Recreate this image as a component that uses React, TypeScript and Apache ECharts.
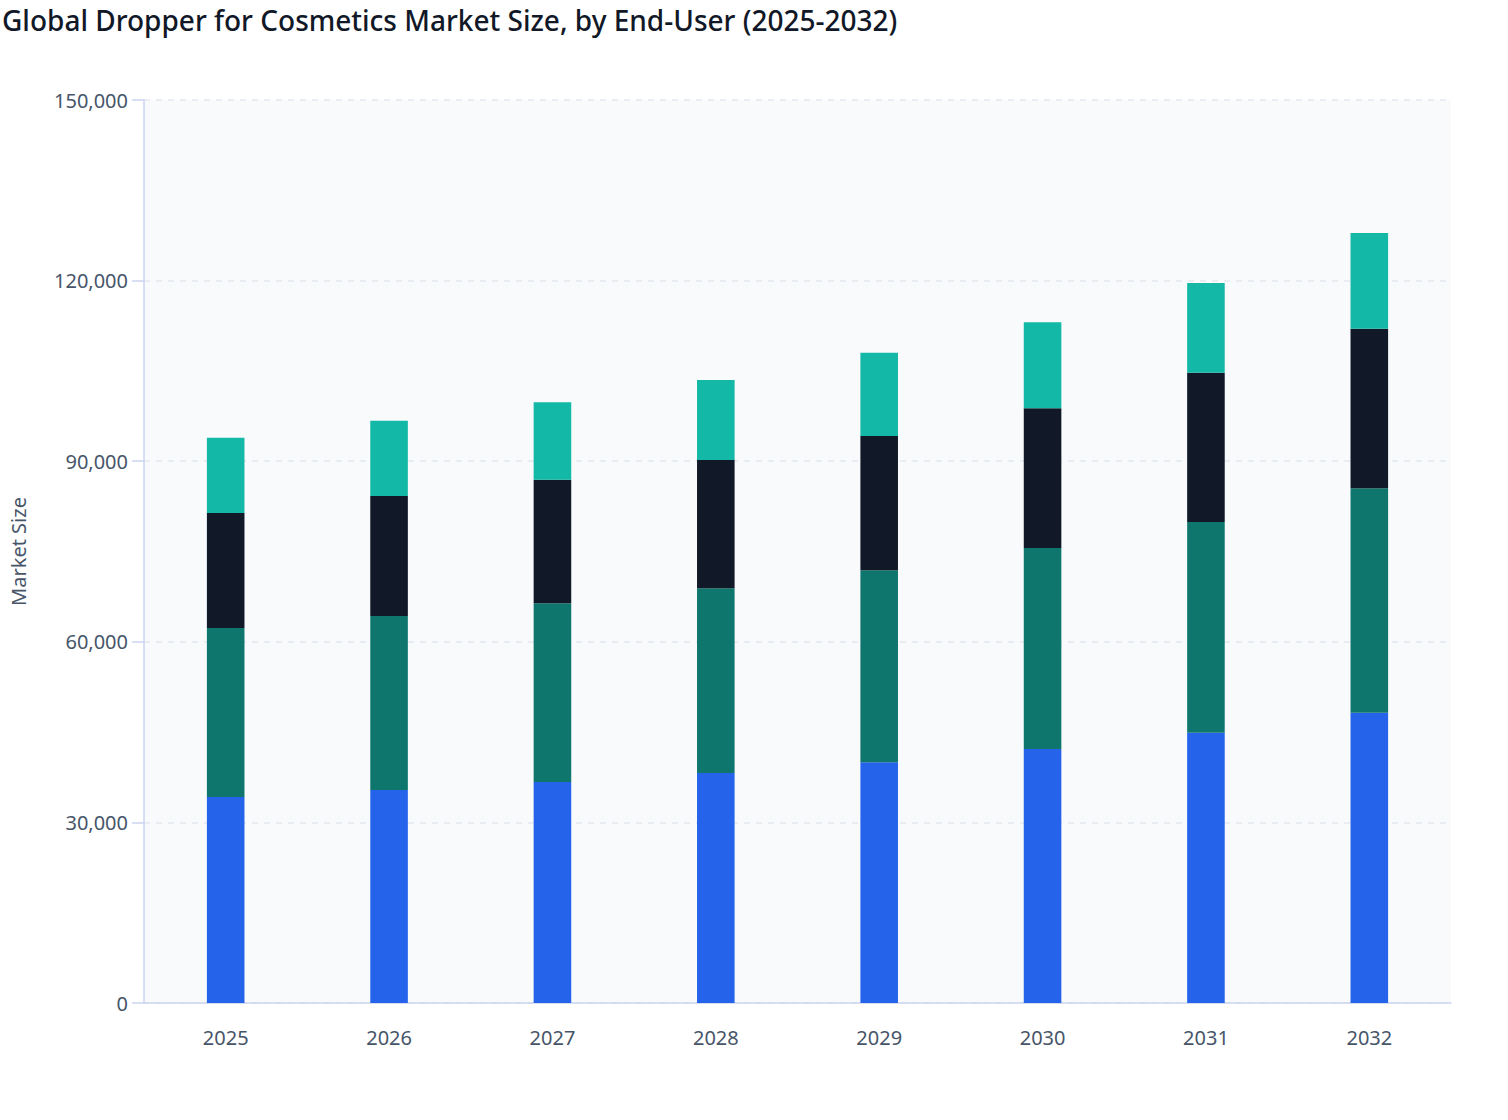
import React, { useEffect, useRef } from "react";
import * as echarts from "echarts";

const years = ["2025", "2026", "2027", "2028", "2029", "2030", "2031", "2032"];
const seriesNames = ["Personal Care Brands", "Cosmetics Manufacturers", "Pharmaceutical & Cosmeceutical", "Others"];
const seriesA = [34200, 35400, 36700, 38200, 40000, 42200, 44900, 48200];
const seriesB = [28100, 28900, 29700, 30700, 31900, 33400, 35000, 37300];
const seriesC = [19100, 19900, 20500, 21300, 22300, 23200, 24800, 26500];
const seriesD = [12500, 12500, 12900, 13300, 13800, 14300, 14900, 15900];
const colors = ["#2563eb", "#0f766e", "#111827", "#14b8a6"];

export default function App() {
  const ref = useRef<HTMLDivElement>(null);
  useEffect(() => {
    document.body.style.margin = "0";
    const chart = echarts.init(ref.current!, null, { renderer: "svg" });
    const data = [seriesA, seriesB, seriesC, seriesD];
    chart.setOption({
      animation: false,
      textStyle: { fontFamily: "'Noto Sans', 'Open Sans', sans-serif" },
      title: {
        text: "Global Dropper for Cosmetics Market Size, by End-User (2025-2032)",
        left: 0,
        top: 0,
        padding: [5, 0, 0, 2],
        textStyle: { fontSize: 28, fontWeight: 500, color: "#111827", fontFamily: "'Noto Sans', sans-serif", lineHeight: 30 },
      },
      grid: {
        left: 142,
        right: 57,
        top: 100,
        bottom: 117,
        show: true,
        backgroundColor: "#f8fafc",
        borderWidth: 0,
      },
      xAxis: {
        type: "category",
        data: years,
        axisLine: { lineStyle: { color: "#cbd5f1", width: 1.5 } },
        axisTick: { alignWithLabel: true, length: 10, lineStyle: { color: "#cbd5f1", width: 1.5 } },
        axisLabel: { color: "#475569", fontSize: 20, margin: 24 },
      },
      yAxis: {
        type: "value",
        min: 0,
        max: 150000,
        interval: 30000,
        name: "Market Size",
        nameLocation: "middle",
        nameGap: 116,
        nameTextStyle: { color: "#475569", fontSize: 20 },
        axisLine: { show: true, lineStyle: { color: "#cbd5f1", width: 1.5 } },
        axisTick: { show: true, length: 12, lineStyle: { color: "#cbd5f1", width: 1.5 } },
        axisLabel: {
          color: "#475569",
          fontSize: 20,
          margin: 16,
          formatter: (v: number) => v.toLocaleString("en-US"),
        },
        splitLine: { lineStyle: { color: "#e2e8f0", type: [6, 6], width: 1.5 } },
      },
      series: data.map((d, i) => ({
        name: seriesNames[i],
        type: "bar",
        stack: "total",
        data: d,
        barWidth: "23%",
        itemStyle: { color: colors[i] },
      })),
    });
    return () => chart.dispose();
  }, []);
  return <div ref={ref} style={{ width: 1508, height: 1120 }} />;
}
